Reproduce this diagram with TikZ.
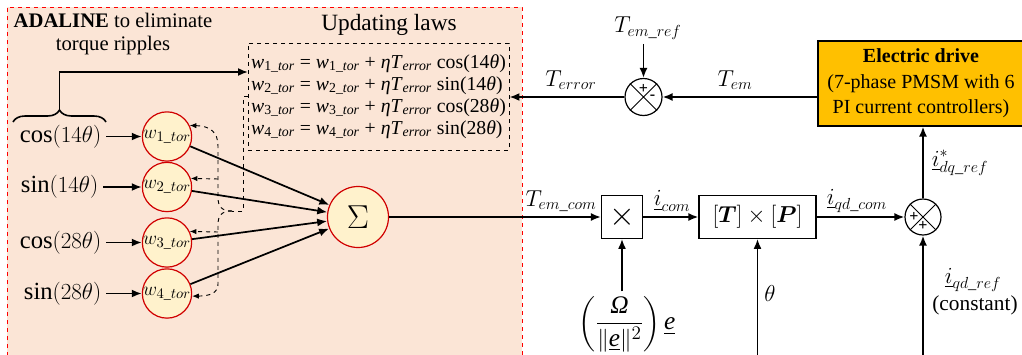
\documentclass[tikz,border=0pt]{standalone}
\usepackage{amsmath}
\usepackage{fontspec}
\setmainfont{Liberation Serif}
\usetikzlibrary{arrows.meta,decorations.pathreplacing}
\definecolor{peach}{HTML}{FBE5D6}
\definecolor{wfill}{HTML}{FFF2CC}
\definecolor{wred}{HTML}{D00000}
\definecolor{drivefill}{HTML}{FFC000}
\newcommand{\wt}[1]{\textit{w}\textsubscript{#1\_\textit{tor}}}
\newcommand{\eqline}[3]{\wt{#1} = \wt{#1} + \textit{ηT}\textsubscript{\textit{error}} #2(#3\textit{θ})}
\begin{document}
\begin{tikzpicture}[x=0.75pt,y=-0.75pt,
 arr/.style={-{Latex[length=7.5pt,width=6pt]},line width=1.3pt},
 darr/.style={-{Latex[length=5pt,width=4pt]},dashed,line width=0.7pt},
 dline/.style={dashed,line width=0.7pt},
 wnode/.style={circle,draw=wred,fill=wfill,line width=0.9pt,minimum size=36pt,inner sep=0pt,font=\fontsize{15}{17}\selectfont},
 inlab/.style={anchor=east,font=\fontsize{18.5}{21}\selectfont},
 lab/.style={font=\fontsize{17.5}{20}\selectfont},
 blk/.style={draw,line width=0.9pt,fill=white,minimum height=32pt,inner sep=0pt},
 sumc/.style={circle,draw,line width=0.9pt,fill=white,minimum size=27pt,inner sep=0pt},
 sgn/.style={font=\bfseries\fontsize{12}{12}\selectfont,inner sep=0pt}
]
\useasboundingbox (0,0) rectangle (1022,354);
\fill[peach] (7,7) rectangle (522,364);
\draw[red,dashed,line width=0.6pt] (7,364) -- (7,7) -- (522,7) -- (522,364);

\node[align=center,font=\fontsize{15.5}{17.5}\selectfont] (title) at (113,34) {\textbf{ADALINE} to eliminate\\torque ripples};
\node[font=\fontsize{17.5}{20}\selectfont] (uptitle) at (389,25) {Updating laws};
\node[draw,dashed,line width=0.7pt,minimum width=195.75pt,minimum height=80.25pt,align=left,inner sep=2pt,font=\fontsize{14.8}{16.5}\selectfont] (upd) at (378.5,96.5)
 {\eqline{1}{cos}{14}\\ \eqline{2}{sin}{14}\\ \eqline{3}{cos}{28}\\ \eqline{4}{sin}{28}};

% brace
\draw[decorate,decoration={brace,amplitude=9pt},line width=1.2pt] (13,122) -- (106,122);
\coordinate (brtop) at (59.5,109);
\coordinate (updin) at (248,72);
\draw[arr] (brtop) |- (updin);

% inputs and weights
\node[inlab] (c1) at (106,136.5) {$\cos(14\theta)$};
\node[inlab] (c2) at (103,187) {$\sin(14\theta)$};
\node[inlab] (c3) at (106,242.5) {$\cos(28\theta)$};
\node[inlab] (c4) at (106,293.5) {$\sin(28\theta)$};
\node[wnode] (w1) at (167,136.5) {$w_{1\_tor}$};
\node[wnode] (w2) at (167,187) {$w_{2\_tor}$};
\node[wnode] (w3) at (167,242.5) {$w_{3\_tor}$};
\node[wnode] (w4) at (167,293.5) {$w_{4\_tor}$};
\draw[arr] (c1.east) -- (w1.west);
\draw[arr] (c2.east) -- (w2.west);
\draw[arr] (c3.east) -- (w3.west);
\draw[arr] (c4.east) -- (w4.west);

\node[wnode,minimum size=45.75pt,font=\fontsize{32}{32}\selectfont] (sig) at (358,217) {$\Sigma$};
\draw[arr] (w1) -- (sig);
\draw[arr] (w2) -- (sig);
\draw[arr] (w3) -- (sig);
\draw[arr] (w4) -- (sig);

% dashed feedback
\coordinate (fbA) at (243,96.5);
\coordinate (fbB) at (243,211);
\coordinate (fbC) at (232,211);
\coordinate (v2) at (218,179);
\coordinate (v3) at (218,232);
\draw[dline] (upd.west) -- (fbA) -- (fbB) -- (fbC);
\draw[darr] (fbC) .. controls (221,211) and (218,206) .. (218,197) -- (218,146) .. controls (218,132) and (210,126) .. (w1.26);
\draw[darr] (fbC) .. controls (221,211) and (218,216) .. (218,225) -- (218,284) .. controls (218,293) and (210,296) .. (w4.-6);
\draw[darr] (v2) -- (w2.20);
\draw[darr] (v3) -- (w3.26);

% right side
\node[blk,minimum width=30.75pt,font=\fontsize{24}{24}\selectfont] (mult) at (622,217) {$\times$};
\node[blk,minimum width=87.75pt,font=\fontsize{17}{20}\selectfont] (tp) at (757.5,217) {$[\boldsymbol{T}]\times[\boldsymbol{P}]$};
\node[sumc] (sr) at (923,217) {};
\node[sumc,minimum size=27.75pt] (st) at (643.5,97) {};
\node[draw,line width=0.9pt,fill=drivefill,minimum width=154.5pt,minimum height=63.75pt,align=center,font=\fontsize{15}{19}\selectfont,inner sep=0pt] (drive) at (921,83.5)
 {\textbf{Electric drive}\\(7-phase PMSM with 6\\PI current controllers)};

\draw[line width=0.6pt] (st.45) -- (st.225) (st.135) -- (st.315);
\draw[line width=0.6pt] (sr.45) -- (sr.225) (sr.135) -- (sr.315);
\node[sgn] (s1) at (643.5,88.5) {+};
\node[sgn] (s2) at (652.5,97.5) {-};
\node[sgn] (s3) at (914,216.5) {+};
\node[sgn] (s4) at (923,225.5) {+};

\node[lab] (lterr) at (571,80) {$T_{error}$};
\node[lab] (ltem) at (735,80) {$T_{em}$};
\node[lab] (ltref) at (648,28) {$T_{em\_ref}$};
\node[lab] (ltcom) at (561,201) {$T_{em\_com}$};
\node[lab] (licom) at (672,201) {$\underline{i}_{com}$};
\node[lab] (liqd) at (857,201) {$\underline{i}_{qd\_com}$};
\node[lab] (lidq) at (960,163) {$\underline{i}^{*}_{dq\_ref}$};
\node[lab] (lth) at (770,293) {$\theta$};
\node[lab] (liref) at (973,280) {$\underline{i}_{qd\_ref}$};
\node[font=\fontsize{16}{18}\selectfont] (lconst) at (975,305) {(constant)};
\node[font=\fontsize{19}{22}\selectfont] (frac) at (627,324) {$\left(\dfrac{\text{\textit{Ω}}}{\lVert\underline{\text{\textit{e}}}\rVert^{2}}\right)\underline{\text{\textit{e}}}$};

\draw[arr] (sig) -- (mult);
\draw[arr] (mult) -- (tp);
\draw[arr] (tp) -- (sr);
\draw[arr] (sr) -- (sr |- drive.south);
\draw[arr] (drive.west |- st) -- (st);
\draw[arr] (st) -- (upd.east |- st);
\draw[arr] (st |- ltref.south) -- (st);
\draw[arr] (mult |- frac.north) -- (mult);
\coordinate (thbot) at (757.5,360);
\coordinate (irbot) at (923,360);
\draw[arr] (thbot) -- (tp);
\draw[arr] (irbot) -- (sr);
\end{tikzpicture}
\end{document}
